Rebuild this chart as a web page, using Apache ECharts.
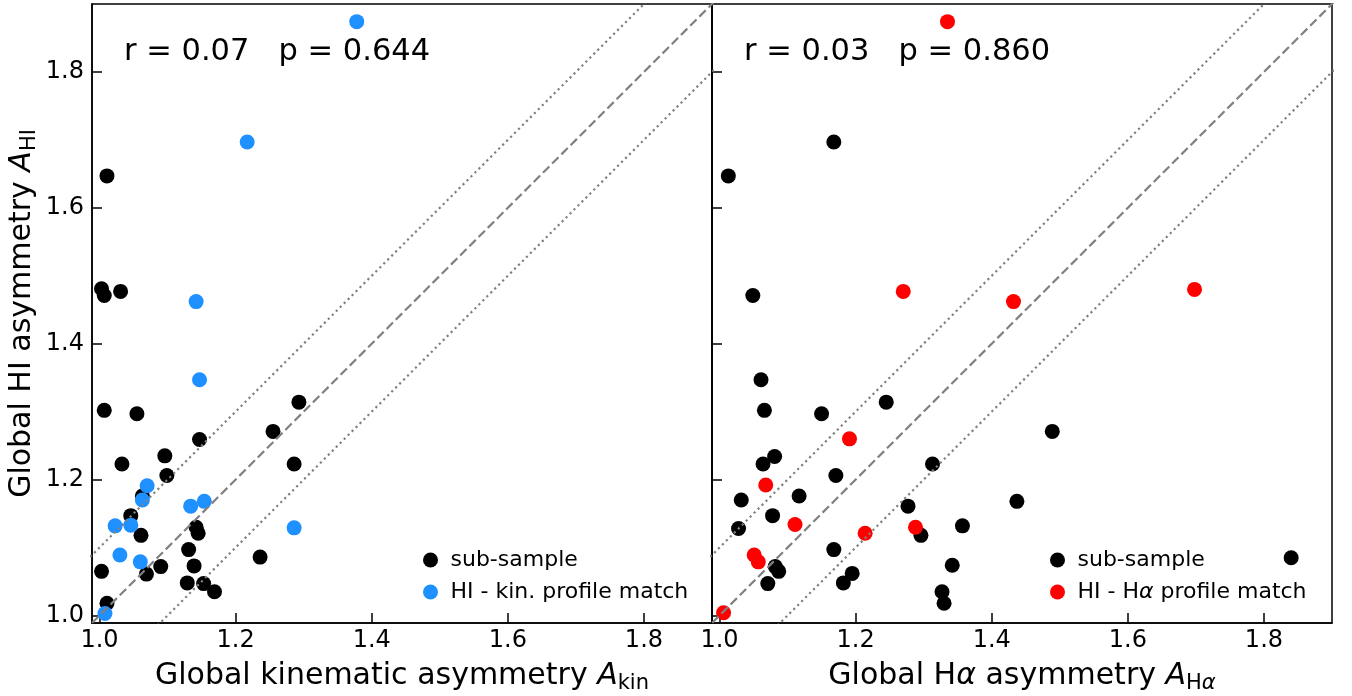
<!DOCTYPE html>
<html>
<head>
<meta charset="utf-8">
<script src="https://cdn.jsdelivr.net/npm/echarts@6/dist/echarts.min.js"></script>
<style>
  html, body { margin: 0; padding: 0; background: #fff; }
  #chart { width: 1352px; height: 696px; }
</style>
</head>
<body>
<div id="chart"></div>
<script>
// left panel: global kinematic asymmetry vs global HI asymmetry
const kinSubX = [1.007, 1.055, 1.293, 1.147, 1.255, 1.033, 1.096, 1.099, 1.286, 1.063, 1.046, 1.061, 1.142, 1.145,
  1.131, 1.236, 1.003, 1.069, 1.090, 1.139, 1.129, 1.153, 1.169, 1.011, 1.011, 1.003, 1.007, 1.031]
const kinSubY = [1.302, 1.297, 1.314, 1.259, 1.271, 1.223, 1.235, 1.206, 1.223, 1.176, 1.147, 1.118, 1.130, 1.121,
  1.097, 1.086, 1.065, 1.061, 1.072, 1.073, 1.048, 1.047, 1.035, 1.018, 1.647, 1.481, 1.471, 1.477]
const kinMatchX = [1.070, 1.063, 1.134, 1.154, 1.023, 1.046, 1.286, 1.030, 1.060, 1.008, 1.217, 1.142, 1.147, 1.378]
const kinMatchY = [1.191, 1.170, 1.161, 1.168, 1.132, 1.133, 1.129, 1.089, 1.079, 1.003, 1.697, 1.462, 1.347, 1.874]

// right panel: global Halpha asymmetry vs global HI asymmetry
const haSubX = [1.066, 1.150, 1.245, 1.081, 1.064, 1.171, 1.313, 1.032, 1.117, 1.078, 1.028, 1.277, 1.296, 1.168,
  1.082, 1.087, 1.071, 1.195, 1.182, 1.342, 1.327, 1.330, 1.489, 1.437, 1.357, 1.168, 1.013, 1.049, 1.061, 1.840]
const haSubY = [1.302, 1.297, 1.314, 1.234, 1.223, 1.206, 1.223, 1.170, 1.176, 1.147, 1.128, 1.161, 1.118, 1.097,
  1.072, 1.065, 1.047, 1.062, 1.048, 1.074, 1.035, 1.018, 1.271, 1.168, 1.132, 1.697, 1.647, 1.471, 1.347, 1.085]
const haMatchX = [1.191, 1.068, 1.111, 1.214, 1.288, 1.051, 1.057, 1.006, 1.270, 1.335, 1.432, 1.698]
const haMatchY = [1.260, 1.192, 1.134, 1.121, 1.130, 1.089, 1.079, 1.004, 1.477, 1.874, 1.462, 1.480]

const tickValues = [1.0, 1.2, 1.4, 1.6, 1.8]
const axisMin = 0.989
const axisMax = 1.9
// one-to-one line and +/-0.1 offsets
const refOffsets = [0, 0.1, -0.1]
const refExtent = [0.8, 2.0]
const statsText = ['r = 0.07   p = 0.644', 'r = 0.03   p = 0.860']

const FONT = 'DejaVu Sans'
const zip = (xs, ys) => xs.map((x, i) => [x, ys[i]])

const richText = {
  n: { fontFamily: FONT, fontSize: 30, color: '#000', lineHeight: 36 },
  i: { fontFamily: FONT, fontSize: 30, fontStyle: 'italic', color: '#000', lineHeight: 36 },
  s: { fontFamily: FONT, fontSize: 21, color: '#000', lineHeight: 36, verticalAlign: 'bottom' },
  si: { fontFamily: FONT, fontSize: 21, fontStyle: 'italic', color: '#000', lineHeight: 36, verticalAlign: 'bottom' },
}

function xAxisFor(idx, name) {
  return {
    type: 'value',
    gridIndex: idx,
    min: axisMin,
    max: axisMax,
    name,
    nameLocation: 'middle',
    nameGap: 35,
    nameTextStyle: { rich: richText },
    axisLine: { show: true, lineStyle: { color: '#000', width: 1.5 } },
    axisTick: { show: true, inside: true, length: 10, customValues: tickValues, lineStyle: { color: '#000', width: 1.5 } },
    axisLabel: {
      show: true, customValues: tickValues, margin: 6,
      fontFamily: FONT, fontSize: 24, color: '#000',
      formatter: v => v.toFixed(1),
    },
    splitLine: { show: false },
  }
}

function yAxisFor(idx, name, showLabels) {
  return {
    type: 'value',
    gridIndex: idx,
    min: axisMin,
    max: axisMax,
    name,
    nameLocation: 'middle',
    nameGap: 52,
    nameTextStyle: { rich: richText },
    axisLine: { show: true, lineStyle: { color: '#000', width: 1.5 } },
    axisTick: { show: true, inside: true, length: 10, customValues: tickValues, lineStyle: { color: '#000', width: 1.5 } },
    axisLabel: {
      show: showLabels, customValues: tickValues, margin: 8,
      fontFamily: FONT, fontSize: 24, color: '#000',
      formatter: v => v.toFixed(1),
    },
    splitLine: { show: false },
  }
}

function refSeries(idx) {
  return refOffsets.map(o => ({
    type: 'line',
    xAxisIndex: idx,
    yAxisIndex: idx,
    data: refExtent.map(x => [x, x + o]),
    showSymbol: false,
    silent: true,
    clip: true,
    z: 3,
    lineStyle: { color: '#808080', width: 2.2, type: o === 0 ? [9, 4] : [2.2, 3.4] },
  }))
}

function scatterSeries(idx, name, data, color) {
  return {
    type: 'scatter',
    name,
    xAxisIndex: idx,
    yAxisIndex: idx,
    data,
    symbol: 'circle',
    symbolSize: 15,
    z: 2,
    itemStyle: { color, opacity: 1 },
  }
}

const legendBase = {
  orient: 'vertical',
  icon: 'circle',
  itemWidth: 30,
  itemHeight: 15,
  itemGap: 10,
  textStyle: { fontFamily: FONT, fontSize: 22, color: '#000', rich: {
    n: { fontFamily: FONT, fontSize: 22, color: '#000' },
    i: { fontFamily: FONT, fontSize: 22, fontStyle: 'italic', color: '#000' },
  } },
  formatter: name => name === 'HI - Hα profile match' ? '{n|HI - H}{i|α}{n| profile match}' : name,
  selectedMode: false,
}

const gridBase = {
  top: 4, width: 620, height: 619, show: true,
  borderColor: '#000', borderWidth: 1.5, backgroundColor: 'transparent',
  containLabel: false, outerBoundsMode: 'none',
}

const chart = echarts.init(document.getElementById('chart'))
chart.setOption({
  backgroundColor: '#fff',
  animation: false,
  grid: [
    { ...gridBase, left: 92 },
    { ...gridBase, left: 712 },
  ],
  xAxis: [
    xAxisFor(0, '{n|Global kinematic asymmetry }{i|A}{s|kin}'),
    xAxisFor(1, '{n|Global H}{i|α}{n| asymmetry }{i|A}{s|H}{si|α}'),
  ],
  yAxis: [
    yAxisFor(0, '{n|Global HI asymmetry }{i|A}{s|HI}', true),
    yAxisFor(1, '', false),
  ],
  legend: [
    { ...legendBase, left: 418, top: 544, data: ['sub-sample', 'HI - kin. profile match'] },
    { ...legendBase, left: 1045, top: 544, data: ['sub-sample', 'HI - Hα profile match'] },
  ],
  graphic: statsText.map((t, i) => ({
    type: 'text',
    left: i === 0 ? 124 : 744,
    top: 37,
    style: { text: t, font: `30.5px "${FONT}"`, fill: '#000' },
  })),
  series: [
    scatterSeries(0, 'sub-sample', zip(kinSubX, kinSubY), '#000'),
    scatterSeries(0, 'HI - kin. profile match', zip(kinMatchX, kinMatchY), '#1E90FF'),
    ...refSeries(0),
    scatterSeries(1, 'sub-sample', zip(haSubX, haSubY), '#000'),
    scatterSeries(1, 'HI - Hα profile match', zip(haMatchX, haMatchY), '#FF0000'),
    ...refSeries(1),
  ],
})
</script>
</body>
</html>
